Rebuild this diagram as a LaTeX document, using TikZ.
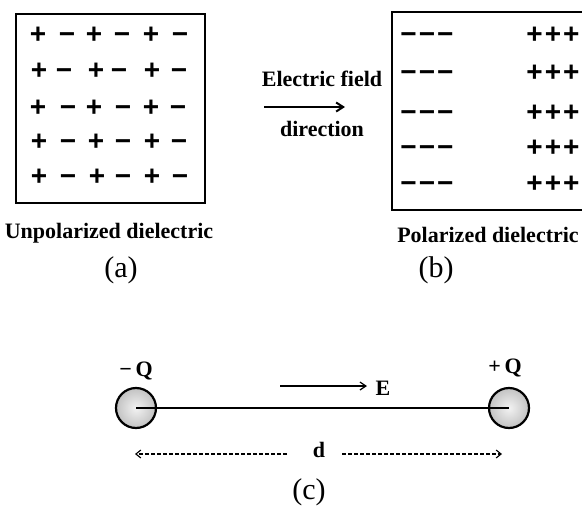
\documentclass[tikz,border=0pt]{standalone}
\usepackage{fontspec}
\setmainfont{Liberation Serif}
\newfontfamily\signfont{Liberation Sans}
\usetikzlibrary{arrows.meta}
\begin{document}
\begin{tikzpicture}[x=1pt,y=-1pt,
  sign/.style={font=\signfont\bfseries\fontsize{28}{28}\selectfont, inner sep=0pt, text height=19.9pt, text depth=0pt},
  lbl/.style={font=\bfseries\fontsize{22}{24}\selectfont, inner sep=0pt},
  captxt/.style={font=\fontsize{30}{32}\selectfont, inner sep=0pt},
  sym/.style={font=\bfseries\fontsize{22}{24}\selectfont, inner sep=0pt},
  boxline/.style={line width=2.5pt},
  charge/.style={circle, minimum size=40pt, inner sep=0pt, draw, line width=2.2pt, inner color=gray!10, outer color=gray!48},
  thinarrow/.style={line width=1.2pt, -{Straight Barb[length=6pt,width=8pt,line width=1.2pt]}},
  dasharrow/.style={line width=1.1pt, dash pattern=on 4pt off 2pt, -{Straight Barb[length=5pt,width=8pt,line width=1.1pt]}},
]
\useasboundingbox (0,0) rectangle (582,509);
\clip (0,0) rectangle (582,509);

% (a) unpolarized box
\draw[boxline] (16,14) rectangle (205,203);
\foreach \y/\xa/\xb/\xc/\xd/\xe/\xf [count=\r] in {
  34/38/67/94/122/151/180,
  70/39/64/96/119/152/179,
  107/38/68/94/123/151/178,
  141/39/68/96/123/152/179,
  176/39/68/97/123/152/180}{
  \node[sign] (pa\r1) at (\xa,\y) {+};
  \node[sign] (ma\r1) at (\xb,\y) {−};
  \node[sign] (pa\r2) at (\xc,\y) {+};
  \node[sign] (ma\r2) at (\xd,\y) {−};
  \node[sign] (pa\r3) at (\xe,\y) {+};
  \node[sign] (ma\r3) at (\xf,\y) {−};
}

% (b) polarized box
\draw[boxline] (392,12) rectangle (600,210);
\foreach \y [count=\r] in {34,72,112,147,183}{
  \node[sign] (mb\r) at (427,\y) {−\kern2pt−\kern2pt−};
  \node[sign] (pb\r) at (553,\y) {+\kern2pt+\kern2pt+};
}

% field direction
\node[lbl] (ef) at (322,79) {Electric field};
\coordinate (ef1) at (264,107);
\coordinate (ef2) at (345,107);
\draw[line width=2pt, -{Straight Barb[length=7pt,width=9pt,line width=2pt]}] (ef1) -- (ef2);
\node[lbl] (dir) at (322,129) {direction};

% captions
\node[lbl] (ua) at (109,233) {Unpolarized dielectric};
\node[lbl] (pb) at (488,235) {Polarized dielectric};
\node[captxt] (la) at (121,270) {(a)};
\node[captxt] (lb) at (436,270) {(b)};

% (c) dipole
\node[charge] (qL) at (136,408) {};
\node[charge] (qR) at (509,408) {};
\draw[line width=1.2pt] (qL.center) -- (qR.center);
\node[sym] (mQ) at (136,371) {−\,Q};
\node[sym] (pQ) at (505,368) {+\,Q};
\coordinate (e1) at (280,386);
\coordinate (e2) at (367,386);
\draw[thinarrow] (e1) -- (e2);
\node[sym] (E) at (383,388) {E};
\node[sym] (d) at (319,450) {d};
\coordinate (dL) at (135,454);
\coordinate (dR) at (502,454);
\draw[dasharrow] ([xshift=-32pt]d.center |- dL) -- (dL);
\draw[dasharrow] ([xshift=23pt]d.center |- dR) -- (dR);
\node[captxt] (lc) at (309,492) {(c)};
\end{tikzpicture}
\end{document}
